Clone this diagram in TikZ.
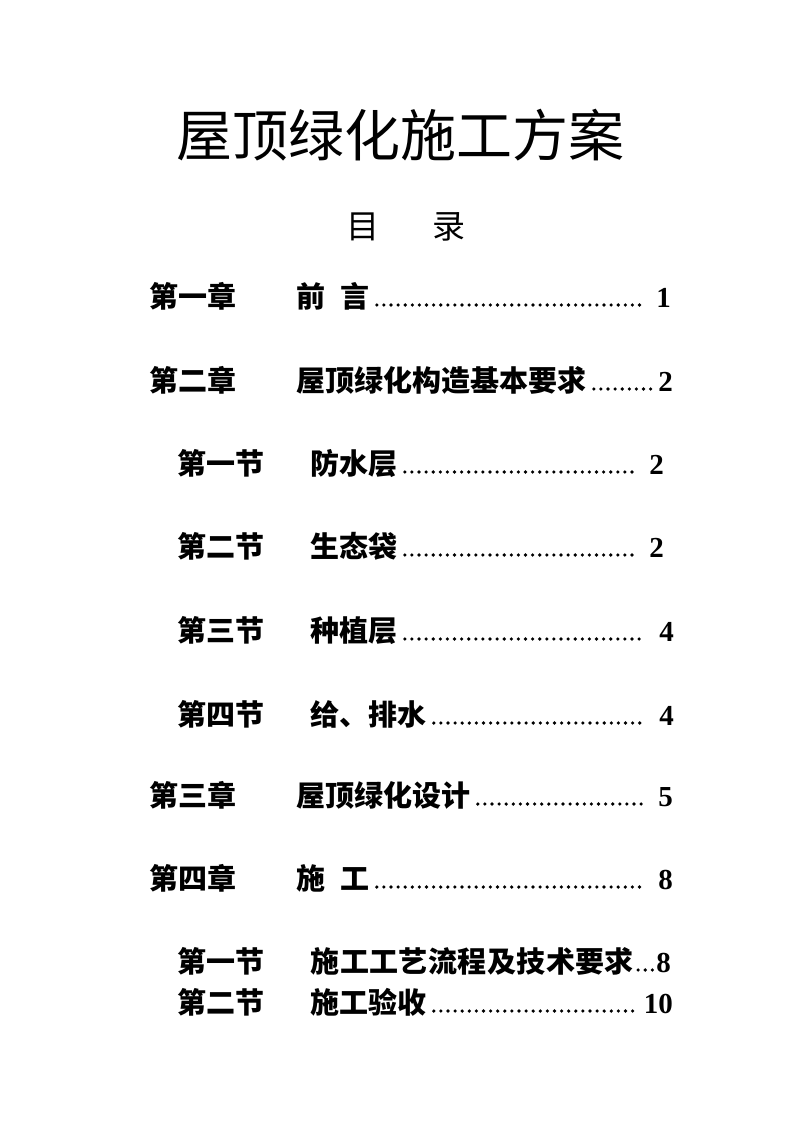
\documentclass[tikz,border=0pt]{standalone}
\usepackage{fontspec}
\setmainfont{Liberation Serif}
\newfontfamily\cjk{Noto Sans CJK SC}
\usetikzlibrary{positioning}

\begin{document}
\begin{tikzpicture}[x=1pt,y=-1pt,
entry/.style={inner sep=0pt,font=\cjk\bfseries\fontsize{29}{35}\selectfont},
chap/.style={entry,anchor=base west},
pagenr/.style={inner sep=0pt,anchor=base east,font=\bfseries\fontsize{29}{35}\selectfont},
leader/.style={line width=3.6pt,line cap=round,dash pattern=on 0pt off 7.1pt}]
\useasboundingbox (0,0) rectangle (794,1123);
\node (title) [inner sep=0pt,anchor=base,font=\cjk\fontsize{56}{60}\selectfont] at (400,157) {屋顶绿化施工方案};
\node (toc) [inner sep=0pt,anchor=base,font=\cjk\fontsize{33}{36}\selectfont] at (406,239) {目\hspace{54pt}录};

% chapter one
\node (ch1) [chap] at (149,307) {第一章};
\node (ch1t) [entry,base right=60pt of ch1] {前\hspace{15pt}言};
\node (ch1p) [pagenr] at (671,307) {1};
\draw [leader] ([xshift=7pt,yshift=2pt]ch1t.base east) -- ([xshift=-15pt,yshift=2pt]ch1p.base west);

% chapter two
\node (ch2) [chap] at (149,391) {第二章};
\node (ch2t) [entry,base right=60pt of ch2] {屋顶绿化构造基本要求};
\node (ch2p) [pagenr] at (673,391) {2};
\draw [leader] ([xshift=7pt,yshift=2pt]ch2t.base east) -- ([xshift=-4pt,yshift=2pt]ch2p.base west);

\node (sec1) [chap] at (177,474) {第一节};
\node (sec1t) [entry,base right=46pt of sec1] {防水层};
\node (sec1p) [pagenr] at (664,474) {2};
\draw [leader] ([xshift=7pt,yshift=2pt]sec1t.base east) -- ([xshift=-15pt,yshift=2pt]sec1p.base west);

\node (sec2) [chap] at (177,557) {第二节};
\node (sec2t) [entry,base right=46pt of sec2] {生态袋};
\node (sec2p) [pagenr] at (664,557) {2};
\draw [leader] ([xshift=7pt,yshift=2pt]sec2t.base east) -- ([xshift=-15pt,yshift=2pt]sec2p.base west);

\node (sec3) [chap] at (177,641) {第三节};
\node (sec3t) [entry,base right=46pt of sec3] {种植层};
\node (sec3p) [pagenr] at (674,641) {4};
\draw [leader] ([xshift=7pt,yshift=2pt]sec3t.base east) -- ([xshift=-15pt,yshift=2pt]sec3p.base west);

\node (sec4) [chap] at (177,725) {第四节};
\node (sec4t) [entry,base right=46pt of sec4] {给、排水};
\node (sec4p) [pagenr] at (674,725) {4};
\draw [leader] ([xshift=7pt,yshift=2pt]sec4t.base east) -- ([xshift=-15pt,yshift=2pt]sec4p.base west);

% chapter three
\node (ch3) [chap] at (149,806) {第三章};
\node (ch3t) [entry,base right=60pt of ch3] {屋顶绿化设计};
\node (ch3p) [pagenr] at (673,806) {5};
\draw [leader] ([xshift=7pt,yshift=2pt]ch3t.base east) -- ([xshift=-12pt,yshift=2pt]ch3p.base west);

% chapter four
\node (ch4) [chap] at (149,889) {第四章};
\node (ch4t) [entry,base right=60pt of ch4] {施\hspace{15pt}工};
\node (ch4p) [pagenr] at (673,889) {8};
\draw [leader] ([xshift=7pt,yshift=2pt]ch4t.base east) -- ([xshift=-15pt,yshift=2pt]ch4p.base west);

\node (sec5) [chap] at (177,972) {第一节};
\node (sec5t) [entry,base right=46pt of sec5,
    font=\cjk\bfseries\fontsize{29}{35}\selectfont\addfontfeature{LetterSpace=1.5}] {施工工艺流程及技术要求};
\node (sec5p) [pagenr] at (671,972) {8};
\draw [leader] ([xshift=4pt,yshift=2pt]sec5t.base east) -- ([xshift=-3pt,yshift=2pt]sec5p.base west);

\node (sec6) [chap] at (177,1013) {第二节};
\node (sec6t) [entry,base right=46pt of sec6] {施工验收};
\node (sec6p) [pagenr] at (673,1013) {10};
\draw [leader] ([xshift=7pt,yshift=2pt]sec6t.base east) -- ([xshift=-4pt,yshift=2pt]sec6p.base west);
\end{tikzpicture}
\end{document}
